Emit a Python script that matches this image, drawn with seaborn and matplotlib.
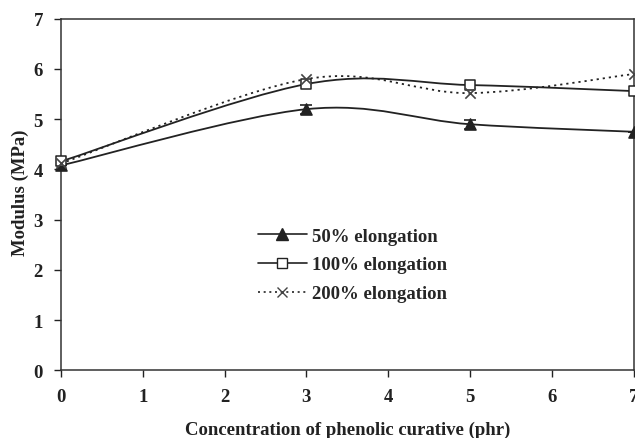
import matplotlib

matplotlib.use("Agg")
import matplotlib.pyplot as plt
import numpy as np
import pandas as pd
import seaborn as sns
from matplotlib.lines import Line2D
from matplotlib.patches import PathPatch
from matplotlib.path import Path

# data
conc = [0, 3, 5, 7]
mod_50 = [4.08, 5.20, 4.90, 4.75]
err_50 = [0.0, 0.09, 0.09, 0.0]
mod_100 = [4.16, 5.70, 5.68, 5.56]
mod_200 = [4.12, 5.80, 5.52, 5.90]
series_names = ["50% elongation", "100% elongation", "200% elongation"]

sns.set_style("ticks")
plt.rcParams["font.family"] = ["Liberation Serif", "DejaVu Serif"]
plt.rcParams["font.weight"] = "bold"

INK = "#222222"
FS = 13.5


def smooth_path(xs, ys):
    """Excel-style smoothed line as cubic Bezier segments."""
    pts = np.column_stack([xs, ys]).astype(float)
    n = len(pts)
    verts = [pts[0]]
    codes = [Path.MOVETO]
    for i in range(n - 1):
        p_prev = pts[i - 1] if i > 0 else pts[i]
        p_next2 = pts[i + 2] if i + 2 < n else pts[i + 1]
        c1 = pts[i] + (pts[i + 1] - p_prev) / 6
        c2 = pts[i + 1] - (p_next2 - pts[i]) / 6
        verts += [c1, c2, pts[i + 1]]
        codes += [Path.CURVE4] * 3
    return Path(verts, codes)


fig = plt.figure(figsize=(6.35, 4.39), dpi=100)
ax = fig.add_axes([0.096, 0.154, 0.902, 0.801])

styles = [
    dict(marker="^", ls="-", mfc=INK, ms=8),
    dict(marker="s", ls="-", mfc="white", ms=7),
    dict(marker="x", ls=(0, (1.2, 2.2)), mfc=INK, ms=7),
]

df = pd.DataFrame({
    "conc": conc * 3,
    "modulus": mod_50 + mod_100 + mod_200,
    "series": sum([[s] * len(conc) for s in series_names], []),
})

for name, st in zip(series_names, styles):
    sub = df[df["series"] == name]
    patch = PathPatch(smooth_path(sub["conc"], sub["modulus"]), fill=False,
                      edgecolor=INK, lw=1.3, ls=st["ls"], zorder=2)
    ax.add_patch(patch)

ax.errorbar(conc, mod_50, yerr=err_50, fmt="none", ecolor=INK, elinewidth=1.2,
            capsize=4, capthick=1.2, zorder=3)

for name, st in zip(series_names, styles):
    sub = df[df["series"] == name]
    if st["marker"] == "x":
        sns.scatterplot(data=sub, x="conc", y="modulus", marker="x", s=55,
                        color="#444444", linewidth=1.2, ax=ax, zorder=4,
                        clip_on=False, legend=False)
    else:
        sns.scatterplot(data=sub, x="conc", y="modulus", marker=st["marker"],
                        s=st["ms"] ** 2, facecolor=st["mfc"], edgecolor=INK,
                        linewidth=1.1, ax=ax, zorder=4, clip_on=False, legend=False)

ax.set_xlim(0, 7)
ax.set_ylim(0, 7)
ax.set_xticks(range(0, 8))
ax.set_yticks(range(0, 8))
ax.tick_params(axis="both", direction="out", length=5, width=1, colors=INK,
               labelsize=FS, pad=8)
for sp in ax.spines.values():
    sp.set_color("#333333")
    sp.set_linewidth(1.1)

ax.set_xlabel("Concentration of phenolic curative (phr)", fontsize=FS,
              fontweight="bold", color=INK)
ax.xaxis.set_label_coords(0.5, -0.143)
ax.set_ylabel("Modulus (MPa)", fontsize=FS, fontweight="bold", color=INK)
ax.yaxis.set_label_coords(-0.056, 0.508)

handles = [
    Line2D([], [], color=INK, lw=1.2, ls="-", marker="^", ms=8, mfc=INK, mec=INK),
    Line2D([], [], color=INK, lw=1.2, ls="-", marker="s", ms=7, mfc="white", mec=INK),
    Line2D([], [], color=INK, lw=1.2, ls=(0, (1.2, 2.2)), marker="x", ms=7,
           mec="#444444"),
]
ax.legend(handles, series_names, loc="center left", bbox_to_anchor=(0.344, 0.300),
          frameon=False, fontsize=FS, handlelength=2.6, labelspacing=0.62,
          handletextpad=0.27, borderpad=0, borderaxespad=0)

fig.savefig("out.png", dpi=100, facecolor="white")
plt.close(fig)
